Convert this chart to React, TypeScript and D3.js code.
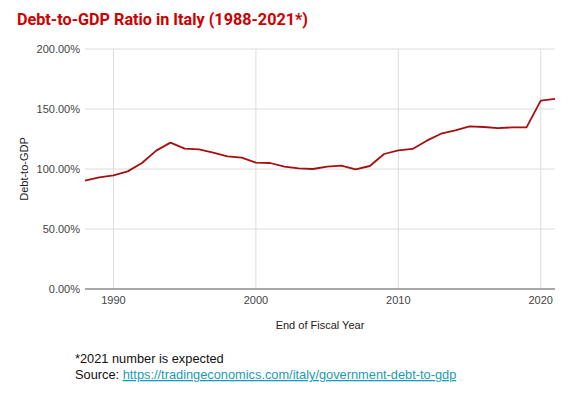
import * as d3 from 'd3';

const years = [1988, 1989, 1990, 1991, 1992, 1993, 1994, 1995, 1996, 1997, 1998, 1999, 2000, 2001, 2002, 2003, 2004, 2005, 2006, 2007, 2008, 2009, 2010, 2011, 2012, 2013, 2014, 2015, 2016, 2017, 2018, 2019, 2020, 2021];
const debtToGdp = [90.3, 93, 94.7, 98, 105, 115.3, 122, 117, 116.4, 113.6, 110.6, 109.4, 105.3, 105, 102, 100.5, 100, 102, 102.8, 99.7, 102.5, 112.5, 115.5, 116.7, 123.6, 129.4, 132.2, 135.6, 135, 134, 134.7, 134.7, 157, 158.4];
const yTicks = [0, 50, 100, 150, 200];
const xTicks = [1990, 2000, 2010, 2020];

const W = 580;
const H = 398;
const left = 85;
const right = 555;
const top = 49;
const bottom = 289;

export default function App() {
  const x = d3.scaleLinear().domain([1988, 2021]).range([left, right]);
  const y = d3.scaleLinear().domain([0, 200]).range([bottom, top]);
  const line = d3.line<number>()
    .x((_, i) => x(years[i]))
    .y(d => y(d));

  const font = 'Liberation Sans, Arial, sans-serif';

  return (
    <svg width={W} height={H} style={{ position: 'absolute', left: 0, top: 0, background: '#fff' }}>
      <text x={17} y={25} fill="#cc0000" fontFamily="Roboto, sans-serif" fontWeight={700} fontSize={16.2}>
        Debt-to-GDP Ratio in Italy (1988-2021*)
      </text>

      {/* grid */}
      {yTicks.filter(t => t > 0).map(t => (
        <line key={'gy' + t} x1={left} x2={right} y1={y(t)} y2={y(t)} stroke="#dcdcdc" strokeWidth={1} />
      ))}
      {xTicks.map(t => (
        <line key={'gx' + t} x1={x(t)} x2={x(t)} y1={top} y2={bottom} stroke="#dcdcdc" strokeWidth={1} />
      ))}
      <line x1={left} x2={right} y1={bottom} y2={bottom} stroke="#555" strokeWidth={1.2} />

      {/* y tick labels */}
      {yTicks.map(t => (
        <text key={'ty' + t} x={80} y={y(t) + 4} textAnchor="end" fontFamily={font} fontSize={11} fill="#444">
          {t.toFixed(2) + '%'}
        </text>
      ))}
      {xTicks.map(t => (
        <text key={'tx' + t} x={x(t)} y={304} textAnchor="middle" fontFamily={font} fontSize={11} fill="#444">
          {t}
        </text>
      ))}

      <text transform={`translate(28, ${y(100)}) rotate(-90)`} textAnchor="middle" fontFamily={font} fontSize={11} fill="#222">
        Debt-to-GDP
      </text>
      <text x={320} y={329} textAnchor="middle" fontFamily={font} fontSize={11} fill="#222">
        End of Fiscal Year
      </text>

      <path d={line(debtToGdp) || ''} fill="none" stroke="#a50f0f" strokeWidth={1.8} strokeLinejoin="round" />

      <text x={75} y={363} fontFamily={font} fontSize={12.8} fill="#111">*2021 number is expected</text>
      <text x={75} y={379} fontFamily={font} fontSize={12.8} fill="#111">
        Source: <tspan fill="#1a9bb5" textDecoration="underline">https://tradingeconomics.com/italy/government-debt-to-gdp</tspan>
      </text>
    </svg>
  );
}
